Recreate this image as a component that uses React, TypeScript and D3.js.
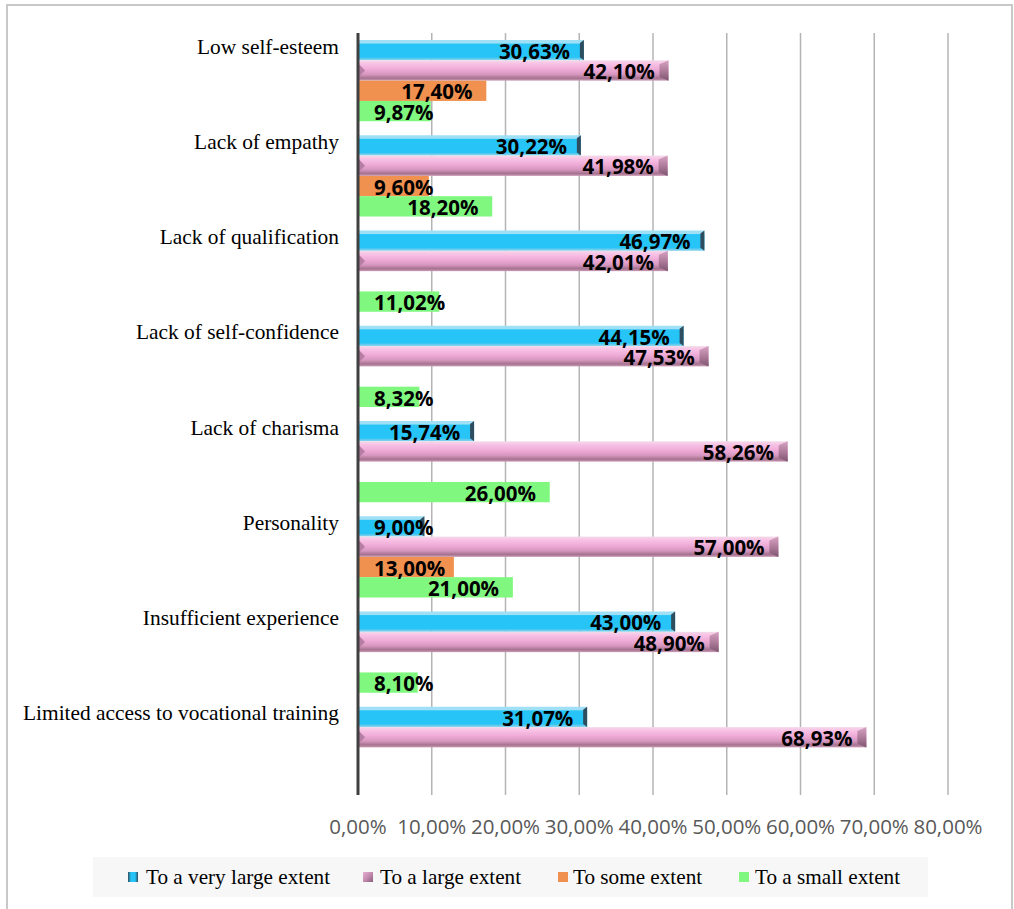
import React from "react";
import * as d3 from "d3";

const categories = [
  "Low self-esteem",
  "Lack of empathy",
  "Lack of qualification",
  "Lack of self-confidence",
  "Lack of charisma",
  "Personality",
  "Insufficient experience",
  "Limited access to vocational training",
];
const seriesNames = ["To a very large extent", "To a large extent", "To some extent", "To a small extent"];
const veryLarge = [30.63, 30.22, 46.97, 44.15, 15.74, 9.0, 43.0, 31.07];
const large = [42.1, 41.98, 42.01, 47.53, 58.26, 57.0, 48.9, 68.93];
const some = [17.4, 9.6, 0, 0, 0, 13.0, 0, 0];
const small = [9.87, 18.2, 11.02, 8.32, 26.0, 21.0, 8.1, 0];
const seriesValues = [veryLarge, large, some, small];
const xTicks = [0, 10, 20, 30, 40, 50, 60, 70, 80];

const fmt = (v: number) => v.toFixed(2).replace(".", ",") + "%";

export default function App() {
  const W = 1014, H = 909;
  const x = d3.scaleLinear().domain([0, 80]).range([358, 948]);
  const y0 = d3.scaleBand<string>().domain(categories).range([33, 795]).padding(0);
  const y1 = d3.scaleBand<string>().domain(seriesNames).range([7, y0.bandwidth() - 7]).padding(0);
  const bh = y1.bandwidth();
  const numFont = "'Open Sans', sans-serif";
  const serif = "'Liberation Serif', 'Times New Roman', serif";

  const bars: React.ReactNode[] = [];
  const labels: React.ReactNode[] = [];
  categories.forEach((c, ci) => {
    seriesNames.forEach((s, si) => {
      const v = seriesValues[si][ci];
      if (!v) return;
      const top = (y0(c) as number) + (y1(s) as number);
      const x0 = x(0);
      const x1 = x(v);
      const w = x1 - x0;
      let g: React.ReactNode;
      if (si === 0) {
        g = (
          <g key={`b${ci}${si}`}>
            <rect x={x0} y={top} width={w} height={bh} fill="url(#gBlue)" />
            <polygon points={`${x1 - 4},${top + 3} ${x1},${top} ${x1},${top + bh} ${x1 - 4},${top + bh - 3}`} fill="#2e4d5e" />
          </g>
        );
      } else if (si === 1) {
        g = (
          <g key={`b${ci}${si}`}>
            <rect x={x0} y={top} width={w} height={bh} fill="url(#gPink)" />
            <polygon points={`${x0},${top + 3} ${x0 + 7},${top + bh / 2} ${x0},${top + bh - 3}`} fill="#b77ea3" />
            <polygon points={`${x1 - 9},${top + 4} ${x1},${top} ${x1},${top + bh} ${x1 - 9},${top + bh - 4}`} fill="url(#gPinkEnd)" />
          </g>
        );
      } else {
        g = (
          <rect key={`b${ci}${si}`} x={x0} y={top} width={w} height={bh} fill={si === 2 ? "#f0914f" : "#80f880"} />
        );
      }
      bars.push(g);
      const txt = fmt(v);
      const tw = txt.length * 11.5;
      let start = x1 - 16 - tw;
      if (start < 374) start = 374;
      labels.push(
        <text key={`l${ci}${si}`} x={start} y={top + bh - 1.5} fontFamily={numFont} fontWeight={700} fontSize={20.5} fill="#000">
          {txt}
        </text>
      );
    });
  });

  const legendItems = [
    { name: seriesNames[0], mx: 128, tx: 146 },
    { name: seriesNames[1], mx: 363, tx: 380 },
    { name: seriesNames[2], mx: 558, tx: 573 },
    { name: seriesNames[3], mx: 739, tx: 755 },
  ];

  return (
    <svg width={W} height={H} style={{ position: "absolute", left: 0, top: 0, background: "#fff" }}>
      <defs>
        <linearGradient id="gBlue" x1="0" y1="0" x2="0" y2="1">
          <stop offset="0" stopColor="#9fe0f6" />
          <stop offset="0.15" stopColor="#9fe0f6" />
          <stop offset="0.2" stopColor="#27c4f8" />
          <stop offset="0.85" stopColor="#27c4f8" />
          <stop offset="0.9" stopColor="#58c9ee" />
          <stop offset="1" stopColor="#8fd6ee" />
        </linearGradient>
        <linearGradient id="gPink" x1="0" y1="0" x2="0" y2="1">
          <stop offset="0" stopColor="#f2dbe9" />
          <stop offset="0.15" stopColor="#f9c3e6" />
          <stop offset="0.45" stopColor="#eeaad6" />
          <stop offset="0.7" stopColor="#d596be" />
          <stop offset="0.88" stopColor="#a6728f" />
          <stop offset="1" stopColor="#c99ab6" />
        </linearGradient>
        <linearGradient id="gPinkEnd" x1="0" y1="0" x2="0" y2="1">
          <stop offset="0" stopColor="#d7a3c3" />
          <stop offset="0.5" stopColor="#b07c9c" />
          <stop offset="1" stopColor="#7d5670" />
        </linearGradient>
        <linearGradient id="gLegBlue" x1="0" y1="0" x2="1" y2="0">
          <stop offset="0" stopColor="#2e4d5e" />
          <stop offset="0.3" stopColor="#27c4f8" />
          <stop offset="0.7" stopColor="#27c4f8" />
          <stop offset="1" stopColor="#2e4d5e" />
        </linearGradient>
        <linearGradient id="gLegPink" x1="0" y1="0" x2="1" y2="1">
          <stop offset="0" stopColor="#e6b0d2" />
          <stop offset="0.5" stopColor="#c48ab0" />
          <stop offset="1" stopColor="#8a5f7c" />
        </linearGradient>
      </defs>
      <rect x={7} y={5} width={1005} height={920} fill="#fff" stroke="#c8c8c8" strokeWidth={2} />
      {xTicks.slice(1).map((t) => (
        <line key={t} x1={x(t)} x2={x(t)} y1={33} y2={795} stroke="#b4b4b4" strokeWidth={1.5} />
      ))}
      {bars}
      <line x1={x(0)} x2={x(0)} y1={33} y2={795} stroke="#404040" strokeWidth={3} />
      {labels}
      {categories.map((c) => (
        <text key={c} x={339} y={(y0(c) as number) + (y1(seriesNames[0]) as number) + 13.5} textAnchor="end" fontFamily={serif} fontSize={21.4} fill="#000">
          {c}
        </text>
      ))}
      {xTicks.map((t) => (
        <text key={t} x={x(t)} y={834} textAnchor="middle" fontFamily={numFont} fontSize={20.5} fill="#595959">
          {t.toFixed(2).replace(".", ",") + "%"}
        </text>
      ))}
      <rect x={93} y={857} width={835} height={40} fill="#f7f7f7" />
      {legendItems.map((it, i) => (
        <g key={it.name}>
          <rect x={it.mx} y={872} width={10} height={10} fill={i === 0 ? "url(#gLegBlue)" : i === 1 ? "url(#gLegPink)" : i === 2 ? "#f0914f" : "#80f880"} />
          <text x={it.tx} y={884} fontFamily={serif} fontSize={21.2} fill="#000">
            {it.name}
          </text>
        </g>
      ))}
    </svg>
  );
}
